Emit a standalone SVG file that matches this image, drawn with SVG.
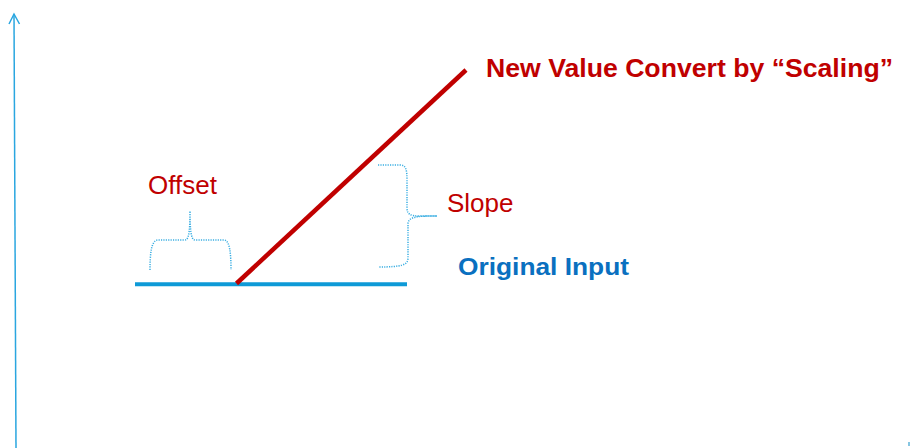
<svg xmlns="http://www.w3.org/2000/svg" width="910" height="448" viewBox="0 0 910 448">
<defs>
<style>
.axis{stroke:#2aa6e0;stroke-width:1.5;fill:none}
.brace{stroke:#3aaee2;stroke-width:1.5;stroke-dasharray:1.2 1.2;fill:none}
.red{fill:#c00000;font-family:"Liberation Sans",Arial,sans-serif}
.blue{fill:#0a70c0;font-family:"Liberation Sans",Arial,sans-serif;font-weight:bold}
</style>
<linearGradient id="xg" x1="0" y1="0" x2="1" y2="0">
<stop offset="0" stop-color="#7fc4e0" stop-opacity="0"/>
<stop offset="0.3" stop-color="#9fd3ea" stop-opacity="0.6"/>
<stop offset="1" stop-color="#5fb3d8" stop-opacity="1"/>
</linearGradient>
</defs>
<rect width="910" height="448" fill="#ffffff"/>
<g id="axes">
<line class="axis" x1="16" y1="448" x2="14" y2="14"/>
<polyline class="axis" points="9,24 14,14 19.5,24"/>
<line x1="640" y1="447.2" x2="910" y2="447.2" stroke="url(#xg)" stroke-width="1.6"/>
<line x1="909" y1="442" x2="909" y2="446" stroke="#5fb3d8" stroke-width="1.5"/>
</g>
<g id="original-input-line">
<line x1="135" y1="284.3" x2="407" y2="284.3" stroke="#0e9ad7" stroke-width="4"/>
</g>
<g id="scaling-line">
<line x1="236.5" y1="283.5" x2="466" y2="70" stroke="#c00000" stroke-width="4.5"/>
</g>
<g id="offset">
<path class="brace" d="M150,270 C150,255 151,240 158,240 L185,240 C189,240 190,230 190,211 C190,230 191,240 195,240 L224,240 C230,240 231,255 231,270"/>
<text class="red" x="148" y="194" font-size="26">Offset</text>
</g>
<g id="slope">
<path class="brace" d="M378,165 L400,165 C406,165 407,170 407,180 L407,208 C407,214 410,216 420,216 L437,216 C420,216 408,216 408,224 L408,258 C408,265 402,267 378,267"/>
<text class="red" x="447" y="212" font-size="26">Slope</text>
</g>
<g id="title">
<text class="red" x="486" y="77" font-size="26.5" font-weight="bold" textLength="407" lengthAdjust="spacingAndGlyphs">New Value Convert by “Scaling”</text>
</g>
<g id="original-input">
<text class="blue" x="458" y="275" font-size="23" textLength="171" lengthAdjust="spacingAndGlyphs">Original Input</text>
</g>
</svg>
